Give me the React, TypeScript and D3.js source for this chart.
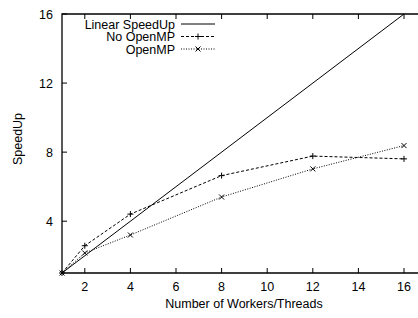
import React from "react";
import * as d3 from "d3";

const threads = [1, 2, 4, 8, 12, 16];
const linear = [1, 16];
const noOpenMP = [1, 2.58, 4.41, 6.64, 7.77, 7.61];
const openMP = [1, 2.16, 3.2, 5.4, 7.03, 8.38];
const xTicks = [2, 4, 6, 8, 10, 12, 14, 16];
const yTicks = [4, 8, 12, 16];

const W = 418;
const H = 318;
const M = { left: 62, right: 14, top: 14, bottom: 45 };
const FONT = "Liberation Sans, Arial, sans-serif";
const FS = 12.5;

export default function App() {
  const x = d3.scaleLinear().domain([1, 16]).range([M.left, W - M.right]);
  const y = d3.scaleLinear().domain([1, 16]).range([H - M.bottom, M.top]);
  const line = d3
    .line<[number, number]>()
    .x((d) => x(d[0]))
    .y((d) => y(d[1]));

  const noPts: [number, number][] = threads.map((t, i) => [t, noOpenMP[i]]);
  const ompPts: [number, number][] = threads.map((t, i) => [t, openMP[i]]);
  const linPts: [number, number][] = linear.map((v) => [v, v]);

  const plus = (cx: number, cy: number, k: string) => (
    <path key={k} d={`M${cx - 3},${cy}H${cx + 3}M${cx},${cy - 3}V${cy + 3}`} stroke="#000" strokeWidth={1} />
  );
  const cross = (cx: number, cy: number, k: string) => (
    <path key={k} d={`M${cx - 2.5},${cy - 2.5}L${cx + 2.5},${cy + 2.5}M${cx - 2.5},${cy + 2.5}L${cx + 2.5},${cy - 2.5}`} stroke="#000" strokeWidth={1} />
  );

  const legend = [
    { label: "Linear SpeedUp", dash: "none", mark: null },
    { label: "No OpenMP", dash: "3,2", mark: plus },
    { label: "OpenMP", dash: "1,1.5", mark: cross },
  ];

  const bottom = H - M.bottom;

  return (
    <svg width={W} height={H} style={{ position: "absolute", left: 0, top: 0, background: "#fff" }} fontFamily={FONT}>
      {/* frame: left, top, bottom (no right border) */}
      <path d={`M${W},${M.top}H${M.left}V${bottom}H${W}`} fill="none" stroke="#000" strokeWidth={1.3} />
      {xTicks.map((t) => (
        <g key={"x" + t}>
          <line x1={x(t)} x2={x(t)} y1={bottom} y2={bottom - 5} stroke="#000" />
          <line x1={x(t)} x2={x(t)} y1={M.top} y2={M.top + 5} stroke="#000" />
          <text x={x(t)} y={bottom + 18} textAnchor="middle" fontSize={FS}>
            {t}
          </text>
        </g>
      ))}
      {yTicks.map((t) => (
        <g key={"y" + t}>
          <line x1={M.left} x2={M.left + 5} y1={y(t)} y2={y(t)} stroke="#000" />
          <text x={M.left - 9} y={y(t) + 4.5} textAnchor="end" fontSize={FS}>
            {t}
          </text>
        </g>
      ))}
      <text x={244} y={H - 10} textAnchor="middle" fontSize={FS}>
        Number of Workers/Threads
      </text>
      <text transform={`translate(22,139) rotate(-90)`} textAnchor="middle" fontSize={FS}>
        SpeedUp
      </text>

      <path d={line(linPts) || ""} fill="none" stroke="#000" strokeWidth={1} />
      <path d={line(noPts) || ""} fill="none" stroke="#000" strokeWidth={1} strokeDasharray="3,2" />
      <path d={line(ompPts) || ""} fill="none" stroke="#000" strokeWidth={1} strokeDasharray="1,1.5" />
      {noPts.map((p, i) => plus(x(p[0]), y(p[1]), "np" + i))}
      {ompPts.map((p, i) => cross(x(p[0]), y(p[1]), "op" + i))}

      {legend.map((l, i) => {
        const ly = 24 + i * 12.5;
        return (
          <g key={l.label}>
            <text x={175} y={ly + 4.5} textAnchor="end" fontSize={FS}>
              {l.label}
            </text>
            <line x1={181} x2={215} y1={ly} y2={ly} stroke="#000" strokeDasharray={l.dash === "none" ? undefined : l.dash} />
            {l.mark ? l.mark(198, ly, "lm" + i) : null}
          </g>
        );
      })}
    </svg>
  );
}
